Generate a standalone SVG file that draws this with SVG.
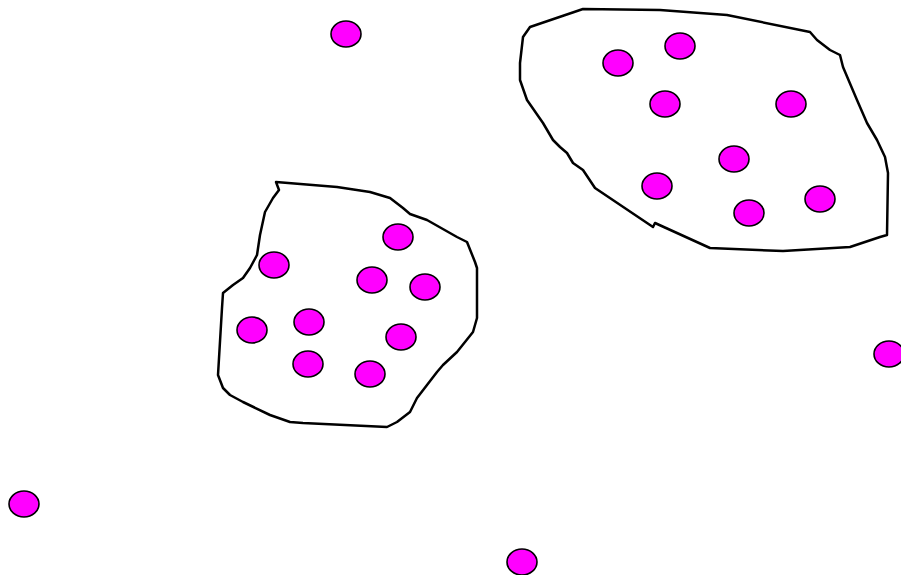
<svg xmlns="http://www.w3.org/2000/svg" width="901" height="575" viewBox="0 0 901 575">
<style>
.blob{fill:#fff;stroke:#000;stroke-width:2.5;stroke-linejoin:round}
.dot{fill:#ff00ff;stroke:#000;stroke-width:1.6}
</style>
<rect width="901" height="575" fill="#fff"/>
<path id="blob-left" class="blob" d="M276,182 L279,190 L273,198 L265,212 L260,235 L257,255 L250,268 L243,278 L233,285 L223,293 L222,308 L218,375 L223,388 L230,395 L243,402 L270,415 L290,422 L303,423 L387,427 L397,422 L410,412 L417,398 L427,385 L437,372 L443,365 L457,352 L473,332 L477,318 L477,268 L475,262 L467,242 L457,237 L427,220 L410,214 L403,208 L390,198 L370,192 L337,187 Z"/>
<path id="blob-right" class="blob" d="M583,9 L530,27 L523,37 L520,63 L520,80 L527,100 L543,123 L553,140 L560,147 L567,153 L573,163 L583,170 L595,188 L653,227 L655,223 L710,248 L783,251 L850,247 L880,237 L887,235 L888,173 L885,157 L877,140 L867,123 L857,100 L843,67 L840,55 L830,50 L817,40 L810,32 L727,15 L660,10 Z"/>
<g id="dots">
<ellipse class="dot" cx="346" cy="34" rx="15" ry="13"/>
<ellipse class="dot" cx="24" cy="504" rx="15" ry="13"/>
<ellipse class="dot" cx="522" cy="562" rx="15" ry="13"/>
<ellipse class="dot" cx="889" cy="354" rx="15" ry="13"/>
<ellipse class="dot" cx="274" cy="265" rx="15" ry="13"/>
<ellipse class="dot" cx="398" cy="237" rx="15" ry="13"/>
<ellipse class="dot" cx="372" cy="280" rx="15" ry="13"/>
<ellipse class="dot" cx="425" cy="287" rx="15" ry="13"/>
<ellipse class="dot" cx="252" cy="330" rx="15" ry="13"/>
<ellipse class="dot" cx="309" cy="322" rx="15" ry="13"/>
<ellipse class="dot" cx="401" cy="337" rx="15" ry="13"/>
<ellipse class="dot" cx="308" cy="364" rx="15" ry="13"/>
<ellipse class="dot" cx="370" cy="374" rx="15" ry="13"/>
<ellipse class="dot" cx="618" cy="63" rx="15" ry="13"/>
<ellipse class="dot" cx="680" cy="46" rx="15" ry="13"/>
<ellipse class="dot" cx="665" cy="104" rx="15" ry="13"/>
<ellipse class="dot" cx="791" cy="104" rx="15" ry="13"/>
<ellipse class="dot" cx="734" cy="159" rx="15" ry="13"/>
<ellipse class="dot" cx="657" cy="186" rx="15" ry="13"/>
<ellipse class="dot" cx="749" cy="213" rx="15" ry="13"/>
<ellipse class="dot" cx="820" cy="199" rx="15" ry="13"/>
</g>
</svg>
